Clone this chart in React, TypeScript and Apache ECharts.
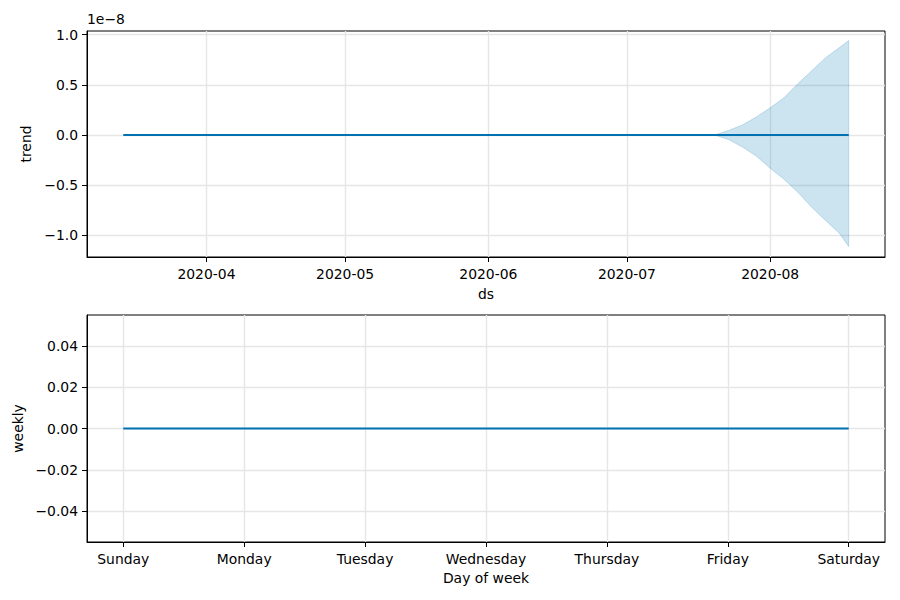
import React, { useEffect, useRef } from "react";
import * as echarts from "echarts";

// ---- data ----
const trendDates = ["2020-03-14", "2020-04-01", "2020-05-01", "2020-06-01", "2020-07-01", "2020-07-20", "2020-08-01", "2020-08-18"];
const trendValues = [0, 0, 0, 0, 0, 0, 0, 0];

const bandDates = ["2020-07-20", "2020-07-23", "2020-07-26", "2020-07-29", "2020-08-01", "2020-08-04", "2020-08-07", "2020-08-10", "2020-08-13", "2020-08-16", "2020-08-18"];
const bandUpper = [0, 0.045e-8, 0.1e-8, 0.18e-8, 0.27e-8, 0.37e-8, 0.51e-8, 0.64e-8, 0.77e-8, 0.87e-8, 0.94e-8];
const bandLower = [0, -0.045e-8, -0.12e-8, -0.21e-8, -0.33e-8, -0.44e-8, -0.57e-8, -0.72e-8, -0.85e-8, -0.98e-8, -1.11e-8];

const trendTickDates = ["2020-04-01", "2020-05-01", "2020-06-01", "2020-07-01", "2020-08-01"];
const trendYTicks = [-1.0e-8, -0.5e-8, 0, 0.5e-8, 1.0e-8];

const weekdays = ["Sunday", "Monday", "Tuesday", "Wednesday", "Thursday", "Friday", "Saturday"];
const weeklyValues = [0, 0, 0, 0, 0, 0, 0];
const weeklyYTicks = [-0.04, -0.02, 0, 0.02, 0.04];

// ---- helpers ----
const DAY = 86400000;
const ts = (s: string) => Date.parse(s + "T00:00:00Z");
const minus = (s: string) => s.replace("-", "\u2212");
const FONT = "DejaVu Sans";
const FS = 13.9;

export default function App() {
  const ref = useRef<HTMLDivElement>(null);

  useEffect(() => {
    if (!ref.current) return;
    const chart = echarts.init(ref.current, undefined, { renderer: "svg" });

    const xMin = ts(trendDates[0]) - 7.85 * DAY;
    const xMax = ts(trendDates[trendDates.length - 1]) + 7.85 * DAY;

    const axisCommon = {
      axisLine: { show: true, onZero: false, lineStyle: { color: "#000", width: 1 } },
      axisTick: { show: true, inside: false, length: 5, lineStyle: { color: "#000", width: 1 } },
      splitLine: { show: true, lineStyle: { color: "#e6e6e6", width: 1.4 } },
      axisLabel: { color: "#000", fontSize: FS, fontFamily: FONT },
      nameTextStyle: { color: "#000", fontSize: FS, fontFamily: FONT },
    };

    const option: any = {
      animation: false,
      textStyle: { fontFamily: FONT },
      grid: [
        { left: 87, right: 15, top: 31, height: 226, show: true, borderColor: "#000", borderWidth: 1, backgroundColor: "transparent" },
        { left: 87, right: 15, top: 315, height: 227, show: true, borderColor: "#000", borderWidth: 1, backgroundColor: "transparent" },
      ],
      graphic: [
        { type: "text", left: 87, top: 12, style: { text: "1e\u22128", fill: "#000", fontSize: FS, fontFamily: FONT } },
      ],
      xAxis: [
        {
          ...axisCommon,
          type: "value",
          gridIndex: 0,
          position: "bottom",
          min: xMin,
          max: xMax,
          name: "ds",
          nameLocation: "middle",
          nameGap: 30,
          axisTick: { ...axisCommon.axisTick, customValues: trendTickDates.map(ts) },
          axisLabel: {
            ...axisCommon.axisLabel,
            margin: 10,
            customValues: trendTickDates.map(ts),
            formatter: (v: number) => {
              const d = new Date(v);
              return d.getUTCFullYear() + "-" + String(d.getUTCMonth() + 1).padStart(2, "0");
            },
          },
        },
        {
          ...axisCommon,
          type: "value",
          gridIndex: 1,
          position: "bottom",
          min: -0.3,
          max: 6.3,
          name: "Day of week",
          nameLocation: "middle",
          nameGap: 29,
          axisTick: { ...axisCommon.axisTick, customValues: weekdays.map((_, i) => i) },
          axisLabel: {
            ...axisCommon.axisLabel,
            margin: 10,
            customValues: weekdays.map((_, i) => i),
            formatter: (v: number) => weekdays[Math.round(v)] ?? "",
          },
        },
      ],
      yAxis: [
        {
          ...axisCommon,
          type: "value",
          gridIndex: 0,
          position: "left",
          min: -1.214e-8,
          max: 1.035e-8,
          name: "trend",
          nameLocation: "middle",
          nameGap: 50,
          axisTick: { ...axisCommon.axisTick, customValues: trendYTicks },
          axisLabel: {
            ...axisCommon.axisLabel,
            margin: 9,
            customValues: trendYTicks,
            formatter: (v: number) => {
              const s = v / 1e-8;
              return Math.abs(s) < 1e-9 ? "0.0" : minus(s.toFixed(1));
            },
          },
        },
        {
          ...axisCommon,
          type: "value",
          gridIndex: 1,
          position: "left",
          min: -0.055,
          max: 0.055,
          name: "weekly",
          nameLocation: "middle",
          nameGap: 58,
          axisTick: { ...axisCommon.axisTick, customValues: weeklyYTicks },
          axisLabel: {
            ...axisCommon.axisLabel,
            margin: 9,
            customValues: weeklyYTicks,
            formatter: (v: number) => (Math.abs(v) < 1e-9 ? "0.00" : minus(v.toFixed(2))),
          },
        },
      ],
      series: [
        {
          type: "custom",
          xAxisIndex: 0,
          yAxisIndex: 0,
          clip: true,
          z: 1,
          data: bandDates.map((d, i) => [ts(d), bandUpper[i], bandLower[i]]),
          encode: { x: 0, y: [1, 2] },
          renderItem: (params: any, api: any) => {
            if (params.dataIndex !== 0) return null;
            const pts: number[][] = [];
            for (let i = 0; i < bandDates.length; i++) pts.push(api.coord([ts(bandDates[i]), bandUpper[i]]));
            for (let i = bandDates.length - 1; i >= 0; i--) pts.push(api.coord([ts(bandDates[i]), bandLower[i]]));
            return {
              type: "polygon",
              shape: { points: pts },
              style: { fill: "rgba(0,114,178,0.2)", stroke: "rgba(0,114,178,0.2)", lineWidth: 1 },
            };
          },
        },
        {
          type: "line",
          xAxisIndex: 0,
          yAxisIndex: 0,
          z: 3,
          showSymbol: false,
          data: trendDates.map((d, i) => [ts(d), trendValues[i]]),
          lineStyle: { color: "#0072B2", width: 2 },
          itemStyle: { color: "#0072B2" },
        },
        {
          type: "line",
          xAxisIndex: 1,
          yAxisIndex: 1,
          z: 3,
          showSymbol: false,
          data: weekdays.map((_, i) => [i, weeklyValues[i]]),
          lineStyle: { color: "#0072B2", width: 2 },
          itemStyle: { color: "#0072B2" },
        },
      ],
    };

    chart.setOption(option);
    return () => chart.dispose();
  }, []);

  return (
    <div
      ref={ref}
      style={{ position: "fixed", left: 0, top: 0, width: 900, height: 600, background: "#fff" }}
    />
  );
}
